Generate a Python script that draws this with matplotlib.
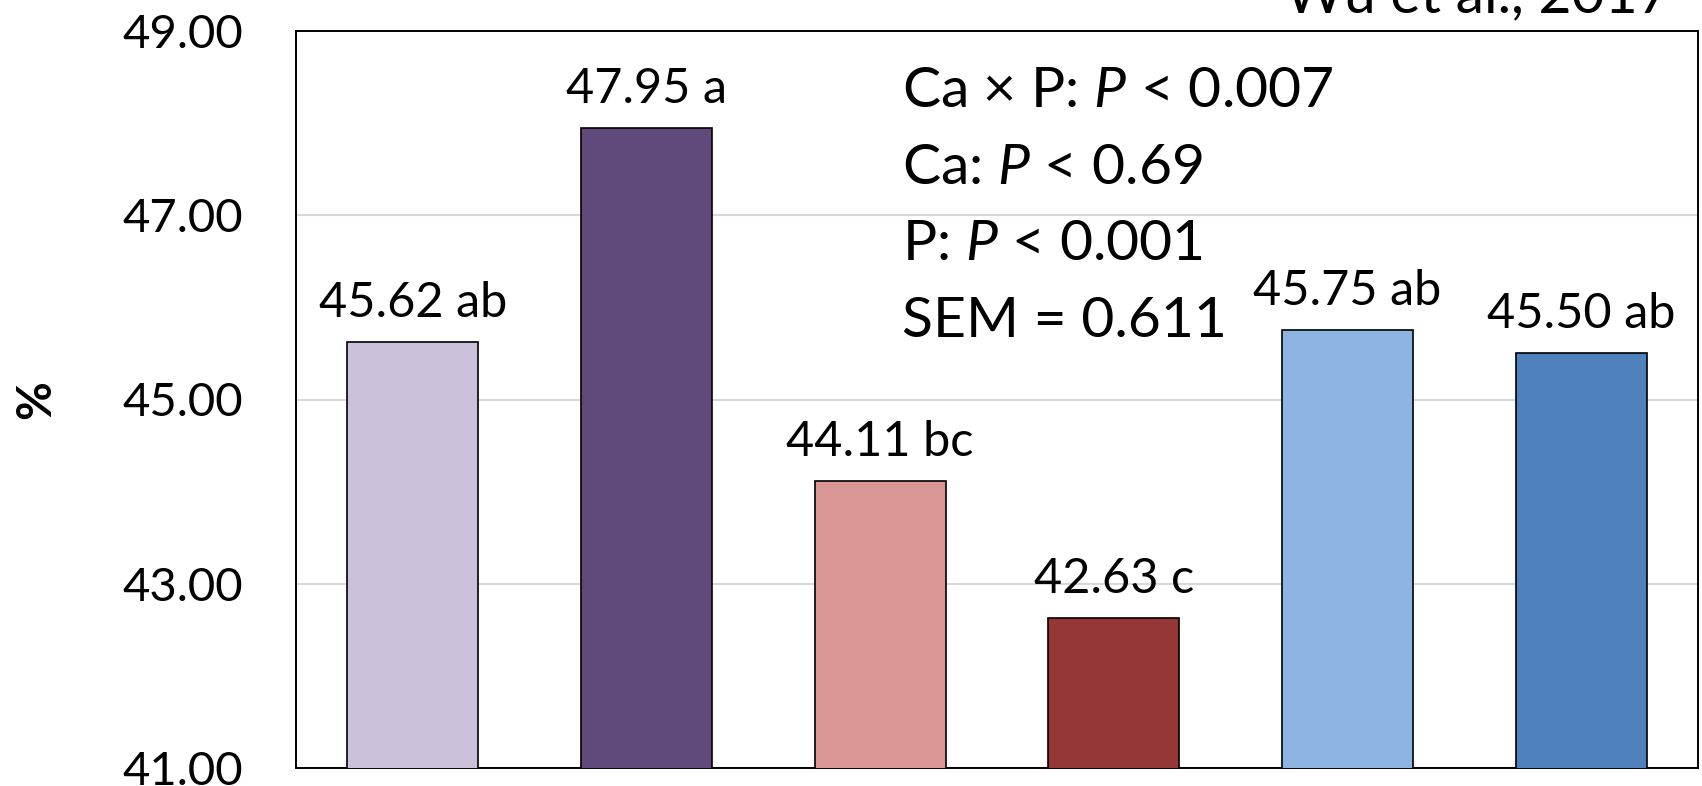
import matplotlib
matplotlib.use("Agg")
from matplotlib import pyplot as plt

values = [45.62, 47.95, 44.11, 42.63, 45.75, 45.50]
letters = ["ab", "a", "bc", "c", "ab", "ab"]
colors = ["#CCC1DA", "#604A7B", "#D99694", "#953735", "#8EB4E3", "#4F81BD"]
yticks = [41, 43, 45, 47, 49]
stats = [r"Ca $\times$ P: $\it{P}$ < 0.007",
         r"Ca: $\it{P}$ < 0.69",
         r"P: $\it{P}$ < 0.001",
         "SEM = 0.611"]

plt.rcParams['font.family'] = ['Lato', 'DejaVu Sans']
plt.rcParams['mathtext.fontset'] = 'custom'
plt.rcParams['mathtext.rm'] = 'Lato'
plt.rcParams['mathtext.it'] = 'Lato:italic'

fig = plt.figure(figsize=(17.02, 7.86), dpi=100)
ax = fig.add_axes([296 / 1702, 18 / 786, 1402 / 1702, 737 / 786])

x = list(range(len(values)))
bars = ax.bar(x, values, width=0.56, color=colors, edgecolor="black",
              linewidth=1.2, zorder=3)

for xi, v, l in zip(x, values, letters):
    ax.annotate(f"{v:.2f} {l}", (xi, v), xytext=(0, 25),
                textcoords="offset pixels", ha="center", va="baseline",
                fontsize=35)

ax.set_xlim(-0.5, 5.5)
ax.set_ylim(41, 49)
ax.set_yticks(yticks)
ax.set_yticklabels([f"{t:.2f}" for t in yticks], fontsize=34)
ax.tick_params(axis="y", length=0, pad=38)
ax.set_xticks([])
ax.grid(axis="y", color="#D9D9D9", linewidth=1.5, zorder=0)
for s in ax.spines.values():
    s.set_color("black")
    s.set_linewidth(1.4)

ax.set_ylabel("%", fontsize=34, fontweight="bold", labelpad=46)

for i, s in enumerate(stats):
    ax.text(0.432, 0.897 - i * 0.104, s, transform=ax.transAxes,
            fontsize=41, va="baseline", ha="left")

fig.text(1478 / 1702, 1 - 12 / 786, "Wu et al., 2017", ha="center",
         va="baseline", fontsize=41)

fig.savefig("out.png", dpi=100)
